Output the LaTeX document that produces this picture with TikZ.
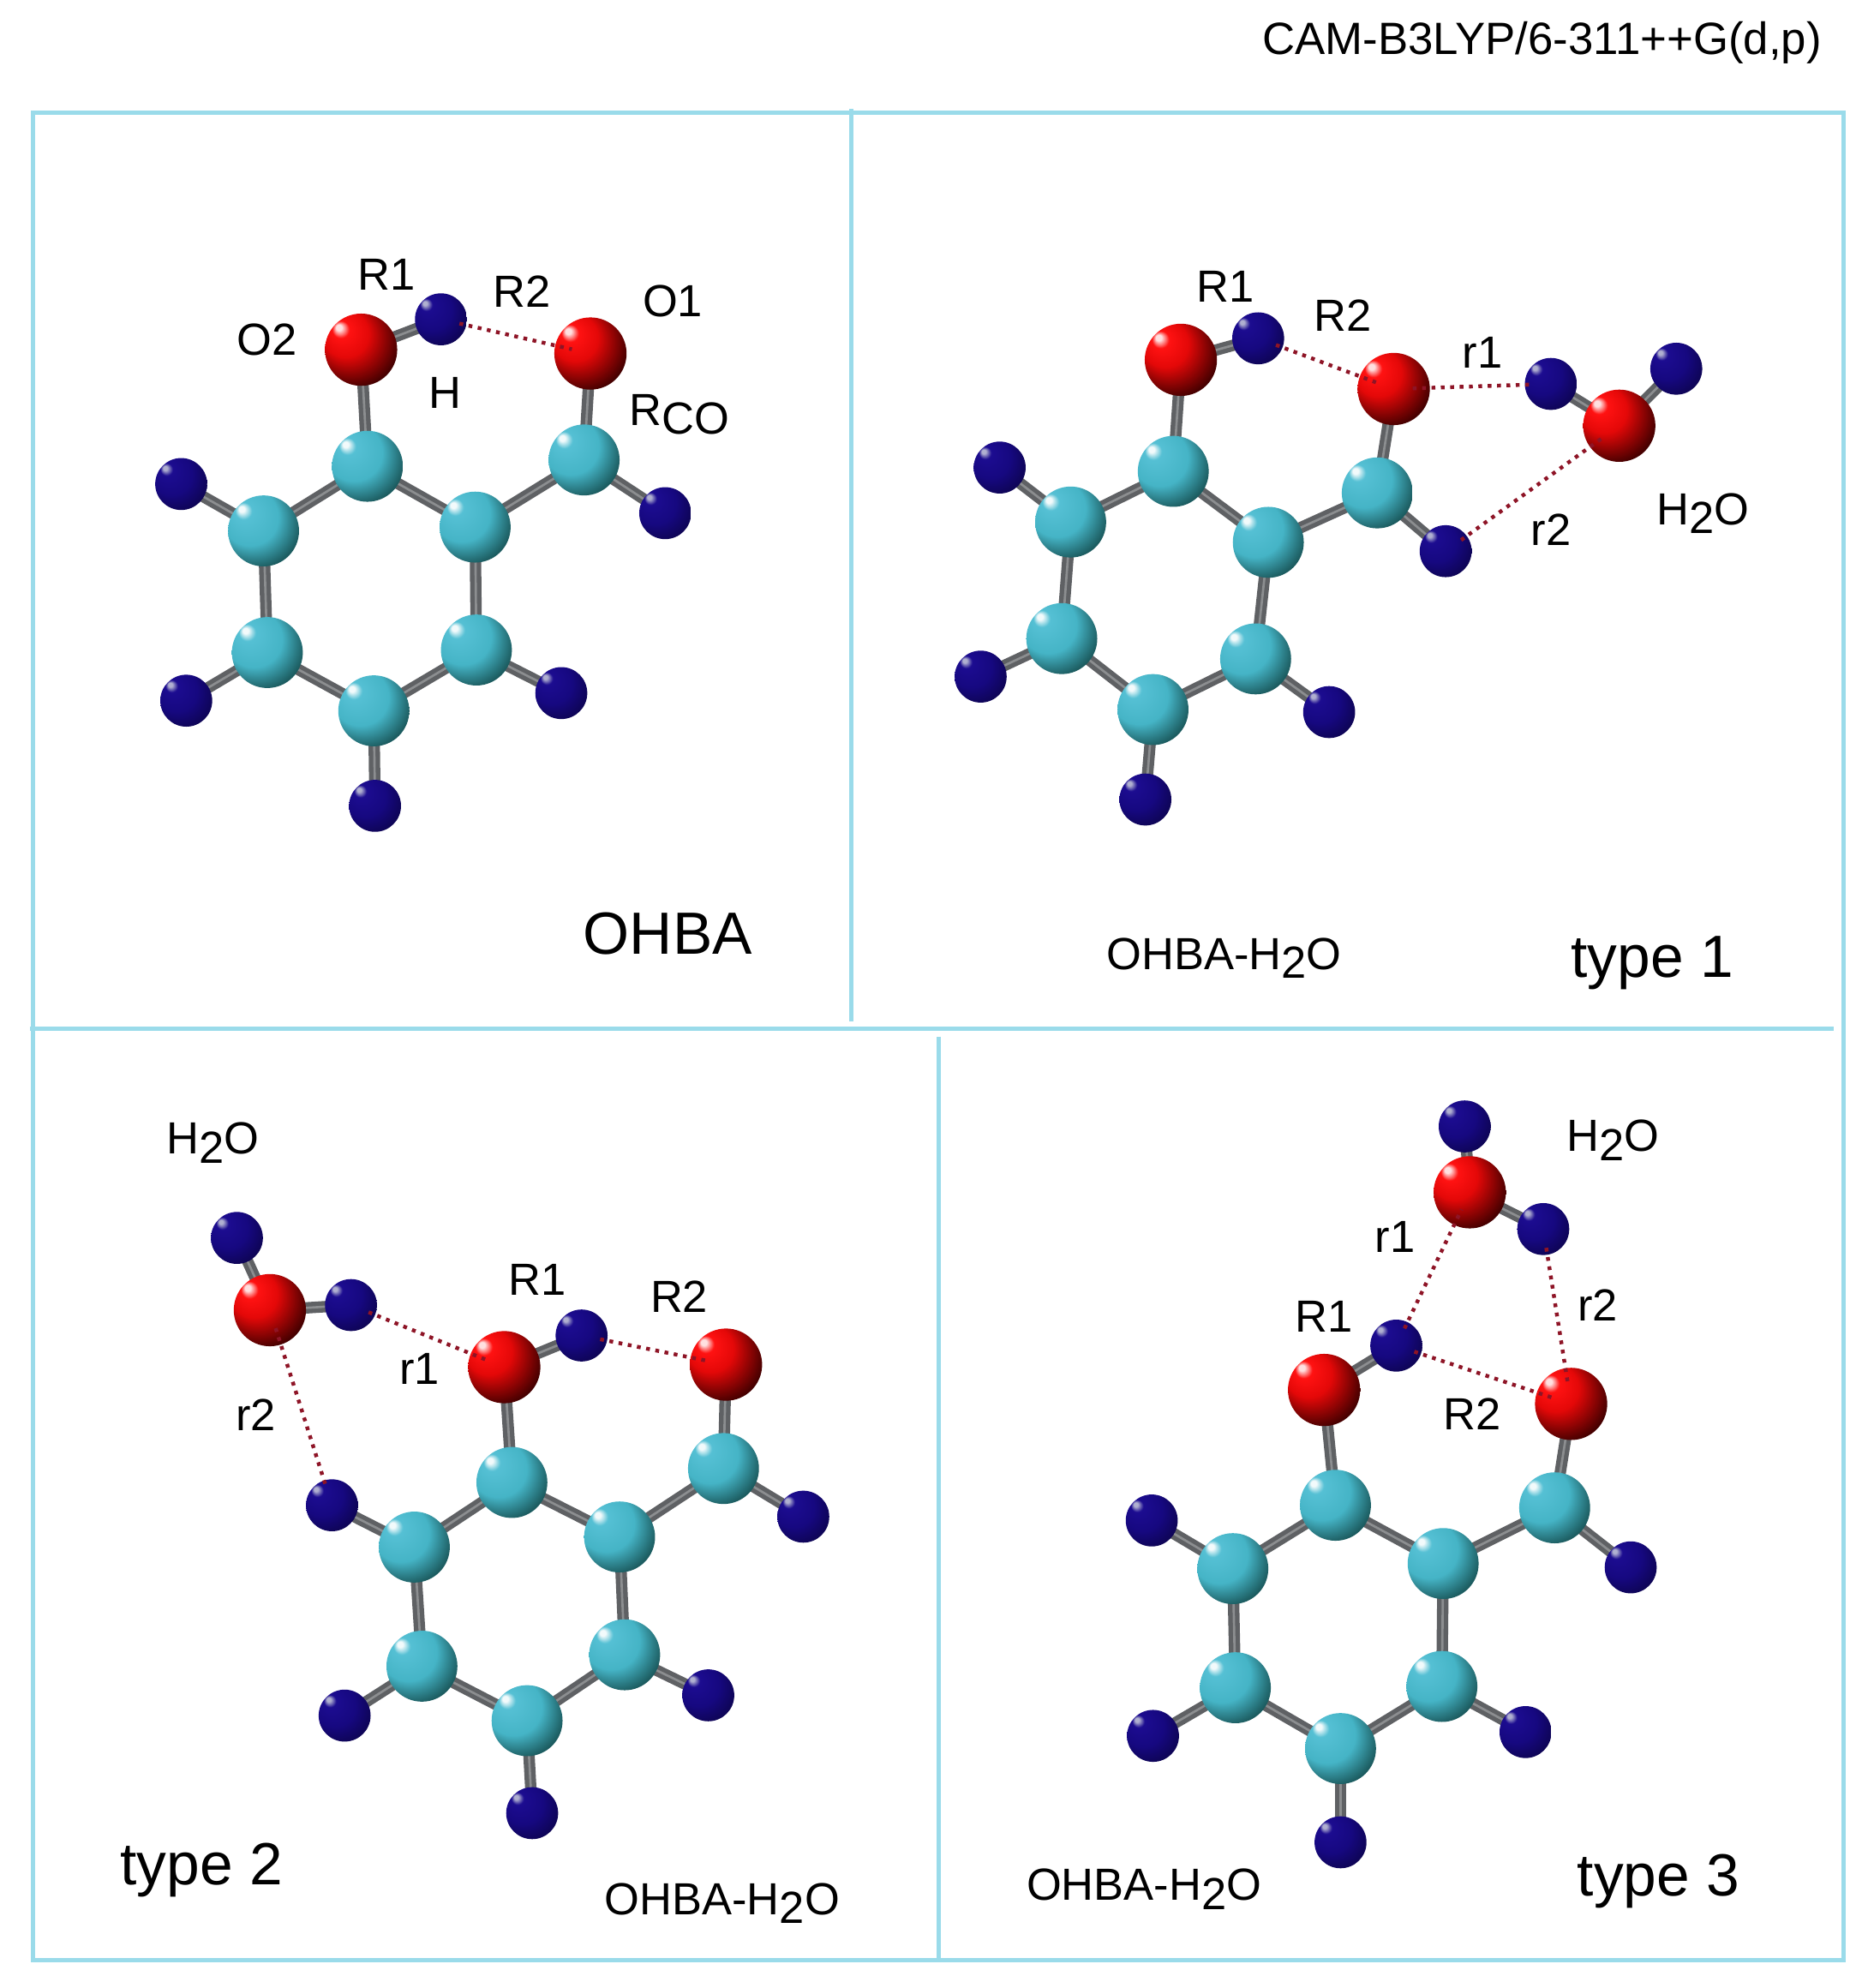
\documentclass[tikz,border=0pt]{standalone}
\usepackage{fontspec}
\setmainfont{Liberation Sans}
\pgfdeclarelayer{bonds}
\pgfsetlayers{bonds,main}
\definecolor{framec}{HTML}{9ADBEA}
\definecolor{bondc}{HTML}{5F6164}
\definecolor{bondl}{HTML}{8C8E90}
\definecolor{hb}{HTML}{8E1426}
\definecolor{tc0}{HTML}{F2FAFB}\definecolor{tc1}{HTML}{55C0D4}\definecolor{tc2}{HTML}{45B4C6}\definecolor{tc3}{HTML}{1C5C60}
\definecolor{to0}{HTML}{FFE0E0}\definecolor{to1}{HTML}{FF1212}\definecolor{to2}{HTML}{E40808}\definecolor{to3}{HTML}{460000}
\definecolor{th0}{HTML}{B0B0D0}\definecolor{th1}{HTML}{1C0C90}\definecolor{th2}{HTML}{160880}\definecolor{th3}{HTML}{0D0450}
\pgfdeclareradialshading{ballC}{\pgfqpoint{-16bp}{16bp}}{color(0bp)=(tc0);color(2bp)=(tc0);color(6bp)=(tc1);color(20bp)=(tc2);color(32bp)=(tc3);color(50bp)=(tc3)}
\pgfdeclareradialshading{ballO}{\pgfqpoint{-16bp}{16bp}}{color(0bp)=(to0);color(2bp)=(to0);color(6bp)=(to1);color(16bp)=(to2);color(32bp)=(to3);color(50bp)=(to3)}
\pgfdeclareradialshading{ballH}{\pgfqpoint{-16bp}{16bp}}{color(0bp)=(th0);color(2bp)=(th0);color(6bp)=(th1);color(20bp)=(th2);color(34bp)=(th3);color(50bp)=(th3)}
\tikzset{
  atomC/.style={circle,inner sep=0pt,minimum size=56pt,shading=ballC},
  atomO/.style={circle,inner sep=0pt,minimum size=57pt,shading=ballO},
  atomH/.style={circle,inner sep=0pt,minimum size=41pt,shading=ballH},
  bond/.style={draw=bondc,line width=9pt,postaction={draw=bondl,line width=1.8pt}},
  hbond/.style={draw=hb,line width=3pt,dash pattern=on 3pt off 4.4pt,shorten <=15pt,shorten >=15pt},
  framel/.style={draw=framec,line width=3pt},
  lab/.style={inner sep=0pt,font=\fontsize{35.5}{40}\selectfont,text=black},
  top/.style={inner sep=0pt,font=\fontsize{35.7}{40}\selectfont,text=black},
  big/.style={inner sep=0pt,font=\fontsize{47}{54}\selectfont,text=black}
}
\newcommand{\lowered}[1]{\raisebox{-7pt}{#1}}
\newcommand{\molbonds}[1]{\foreach \a/\b in {o2/hh,o2/c1,o1/c7,c7/h7,c7/c2,c1/c2,c1/c3,c3/h3,c3/c4,c4/h4,c4/c5,c5/h5,c5/c6,c6/h6,c6/c2}{\draw[bond] (#1\a.center) -- (#1\b.center);}}
\begin{document}
\begin{tikzpicture}[x=1pt,y=-1pt]
\useasboundingbox (0,0) rectangle (1479,1569);
% frames
\draw[framel] (26,89) rectangle (1455,1547);
\draw[framel] (672,86) -- (672,806);
\draw[framel] (24,812) -- (1447,812);
\draw[framel] (741,818) -- (741,1547);
\node[top] (method) at (1217,34) {CAM-B3LYP/6-311++G(d,p)};
% panel A
\foreach \n/\t/\x/\y in {o2/O/285/276,hh/H/348/252,o1/O/466/279,c7/C/461/363,h7/H/525/405,c1/C/290/368,c2/C/375/416,c3/C/208/419,h3/H/143/382,c4/C/211/515,h4/H/147/553,c5/C/295/561,h5/H/296/636,c6/C/376/513,h6/H/443/547}
  {\node[atom\t] (a\n) at (\x,\y) {};}
\begin{pgfonlayer}{bonds}\molbonds{a}\end{pgfonlayer}
\draw[hbond] (ahh.center) -- (ao1.center);
\node[lab] (aR1) at (305,217) {R1};
\node[lab] (aR2) at (412,230) {R2};
\node[lab] (aO1) at (531,238) {O1};
\node[lab] (aO2) at (211,268) {O2};
\node[lab] (aH) at (351,310) {H};
\node[lab] (aRco) at (536,327) {R\lowered{CO}};
\node[big] (aname) at (527,737) {OHBA};
% panel B
\foreach \n/\t/\x/\y in {o2/O/932/284,hh/H/993/267,o1/O/1100/307,c7/C/1087/389,h7/H/1141/435,c1/C/926/372,c2/C/1001/428,c3/C/845/412,h3/H/789/369,c4/C/838/504,h4/H/774/534,c5/C/910/560,h5/H/904/631,c6/C/991/520,h6/H/1049/562,ow/O/1278/336,wa/H/1224/303,wb/H/1323/291}
  {\node[atom\t] (b\n) at (\x,\y) {};}
\begin{pgfonlayer}{bonds}\molbonds{b}
\draw[bond] (bow.center) -- (bwa.center);
\draw[bond] (bow.center) -- (bwb.center);
\end{pgfonlayer}
\draw[hbond] (bhh.center) -- (bo1.center);
\draw[hbond] (bo1.center) -- (bwa.center);
\draw[hbond] (bh7.center) -- (bow.center);
\node[lab] (bR1) at (967,226) {R1};
\node[lab] (bR2) at (1060,249) {R2};
\node[lab] (br1) at (1170,278) {r1};
\node[lab] (br2) at (1224,418) {r2};
\node[lab] (bwat) at (1344,405) {H\lowered{2}O};
\node[lab] (bname) at (966,756) {OHBA-H\lowered{2}O};
\node[big] (btype) at (1304,760) {type 1};
% panel C
\foreach \n/\t/\x/\y in {o2/O/398/1079,hh/H/459/1054,o1/O/573/1077,c7/C/571/1159,h7/H/634/1197,c1/C/404/1170,c2/C/489/1213,c3/C/327/1221,h3/H/262/1188,c4/C/333/1315,h4/H/272/1354,c5/C/416/1358,h5/H/420/1431,c6/C/493/1306,h6/H/559/1338,ow/O/213/1034,wa/H/277/1030,wb/H/187/977}
  {\node[atom\t] (c\n) at (\x,\y) {};}
\begin{pgfonlayer}{bonds}\molbonds{c}
\draw[bond] (cow.center) -- (cwa.center);
\draw[bond] (cow.center) -- (cwb.center);
\end{pgfonlayer}
\draw[hbond] (chh.center) -- (co1.center);
\draw[hbond] (cwa.center) -- (co2.center);
\draw[hbond] (cow.center) -- (ch3.center);
\node[lab] (cwat) at (168,902) {H\lowered{2}O};
\node[lab] (cR1) at (424,1010) {R1};
\node[lab] (cR2) at (536,1023) {R2};
\node[lab] (cr1) at (331,1080) {r1};
\node[lab] (cr2) at (202,1117) {r2};
\node[big] (ctype) at (159,1476) {type 2};
\node[lab] (cname) at (570,1502) {OHBA-H\lowered{2}O};
% panel D
\foreach \n/\t/\x/\y in {o2/O/1045/1097,hh/H/1102/1062,o1/O/1240/1108,c7/C/1227/1190,h7/H/1287/1237,c1/C/1054/1188,c2/C/1139/1234,c3/C/973/1238,h3/H/909/1200,c4/C/975/1332,h4/H/910/1370,c5/C/1058/1380,h5/H/1058/1454,c6/C/1138/1331,h6/H/1204/1367,ow/O/1160/941,wa/H/1156/889,wb/H/1218/970}
  {\node[atom\t] (d\n) at (\x,\y) {};}
\begin{pgfonlayer}{bonds}\molbonds{d}
\draw[bond] (dow.center) -- (dwa.center);
\draw[bond] (dow.center) -- (dwb.center);
\end{pgfonlayer}
\draw[hbond] (dhh.center) -- (do1.center);
\draw[hbond] (dhh.center) -- (dow.center);
\draw[hbond] (dwb.center) -- (do1.center);
\node[lab] (dwat) at (1273,900) {H\lowered{2}O};
\node[lab] (dr1) at (1101,976) {r1};
\node[lab] (dr2) at (1261,1030) {r2};
\node[lab] (dR1) at (1045,1039) {R1};
\node[lab] (dR2) at (1162,1116) {R2};
\node[lab] (dname) at (903,1491) {OHBA-H\lowered{2}O};
\node[big] (dtype) at (1309,1485) {type 3};
\end{tikzpicture}
\end{document}
